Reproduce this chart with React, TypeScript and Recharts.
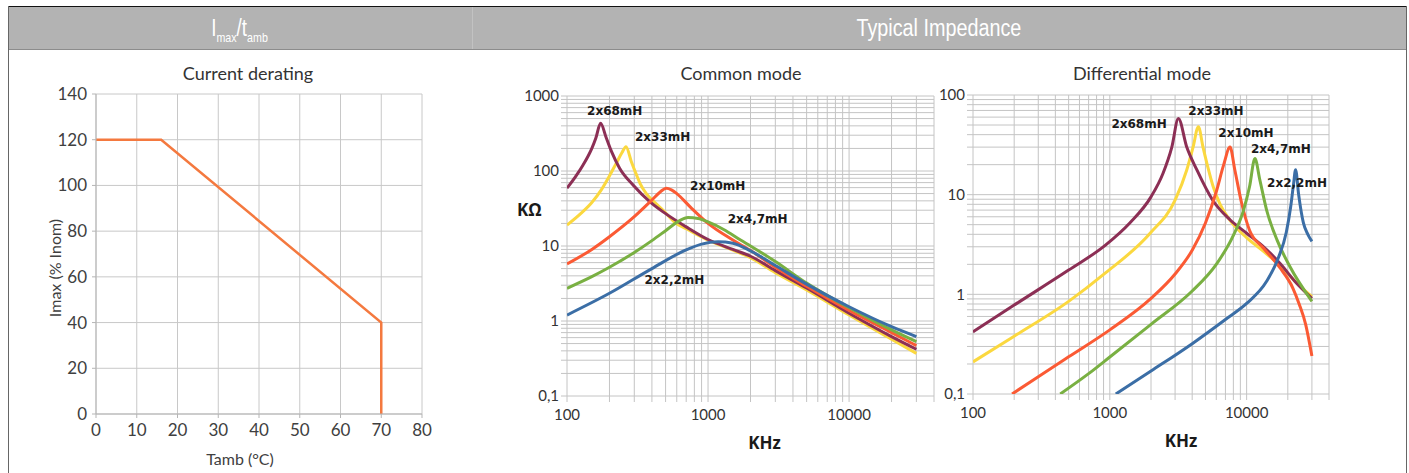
import React from "react";
import {
  CartesianGrid,
  Line,
  LineChart,
  ReferenceDot,
  XAxis,
  YAxis,
} from "recharts";

// Current derating
const tamb = [0, 16, 70, 70];
const imax = [120, 120, 40, 0];
const tambTicks = [0, 10, 20, 30, 40, 50, 60, 70, 80];
const imaxTicks = [0, 20, 40, 60, 80, 100, 120, 140];

// Common mode impedance (KHz -> KOhm)
const cm68F = [100, 115, 130, 150, 160, 173, 190, 207, 236, 294, 386, 500, 700, 1000, 1500, 2000, 3000, 5000, 10000, 20000, 30000];
const cm68Z = [59, 84, 120, 200, 273, 432, 275, 181, 109, 65, 39, 27, 18, 12.2, 9.0, 7.3, 4.7, 2.75, 1.27, 0.62, 0.42];
const cm33F = [100, 125, 150, 175, 200, 225, 245, 262, 286, 310, 330, 365, 420, 480, 595, 700, 1000, 1500, 2000, 3000, 5000, 10000, 20000, 30000];
const cm33Z = [19, 27, 38, 56, 86, 130, 175, 211, 133, 90, 68, 50, 38, 30, 20, 17, 12, 8.8, 7.0, 4.4, 2.6, 1.2, 0.57, 0.37];
const cm10F = [100, 150, 200, 300, 400, 460, 506, 550, 600, 750, 1000, 1500, 2000, 3000, 5000, 10000, 20000, 30000];
const cm10Z = [5.75, 9, 13.3, 24.6, 41, 53, 58.7, 56, 50, 33, 20, 12, 8.7, 5.2, 2.9, 1.38, 0.7, 0.47];
const cm47F = [100, 150, 200, 300, 400, 500, 620, 721, 850, 1000, 1300, 1700, 2000, 3000, 5000, 10000, 20000, 30000];
const cm47Z = [2.73, 3.9, 5.2, 8.2, 11.8, 16, 21.5, 24, 23.3, 21, 16.5, 12, 10, 6.2, 3.2, 1.5, 0.76, 0.53];
const cm22F = [100, 200, 400, 700, 900, 1178, 1500, 2000, 3000, 5000, 10000, 20000, 30000];
const cm22Z = [1.2, 2.34, 5.0, 8.9, 10.6, 11.4, 10.9, 8.6, 5.5, 3.1, 1.55, 0.84, 0.62];

// Differential mode impedance
const dm68F = [100, 200, 500, 925, 1400, 2000, 2450, 2840, 3170, 3650, 4330, 5650, 7560, 10000, 13300, 17500, 23200, 30000];
const dm68Z = [0.42, 0.78, 1.75, 3.1, 5.2, 9.5, 16.4, 30, 58, 30, 17.7, 8.8, 5.6, 4.1, 3.0, 2.05, 1.29, 0.91];
const dm33F = [100, 200, 500, 925, 1970, 3000, 3650, 4060, 4440, 4800, 5200, 5700, 6400, 7500, 10000, 13300, 17500, 23200, 30000];
const dm33Z = [0.21, 0.38, 0.85, 1.63, 4.1, 8.8, 17.7, 30, 48, 30, 19, 12, 8, 5.6, 3.7, 2.7, 1.95, 1.3, 0.95];
const dm10F = [193, 300, 500, 1000, 2000, 3000, 4000, 5000, 6000, 6800, 7560, 8200, 9200, 10500, 13300, 17500, 21800, 24200, 27000, 30000];
const dm10Z = [0.1, 0.149, 0.236, 0.44, 0.91, 1.6, 2.77, 5.2, 10.7, 20, 30, 17.7, 8.2, 4.4, 2.9, 1.85, 1.15, 0.8, 0.5, 0.24];
const dm47F = [434, 700, 1000, 2000, 4000, 6000, 8000, 9500, 10500, 11500, 12500, 14000, 16700, 20700, 30000];
const dm47Z = [0.1, 0.16, 0.235, 0.5, 1.08, 2.0, 3.9, 7, 12, 23, 14, 7, 3.5, 1.9, 0.85];
const dm22F = [1106, 2000, 4000, 7000, 10000, 14000, 17000, 19500, 21000, 22000, 22800, 24000, 26000, 28000, 30000];
const dm22Z = [0.1, 0.17, 0.32, 0.56, 0.81, 1.35, 2.3, 4.2, 7.6, 12.6, 17.8, 10, 5.2, 4.0, 3.4];

const seriesNames = ["2x68mH", "2x33mH", "2x10mH", "2x4,7mH", "2x2,2mH"];
const seriesColors = ["#8c2f55", "#fbd83f", "#fb5a34", "#79b042", "#3b6ea6"];

// label anchors (data units)
const cmLabelF = [218, 477, 1172, 2250, 578];
const cmLabelZ = [631, 284, 63, 22.9, 3.5];
const dmLabelF = [1637, 5970, 9890, 17800, 23350];
const dmLabelZ = [51, 69, 41.6, 28.7, 13.1];

const freqTicks = [100, 1000, 10000];
const cmZTicks = [0.1, 1, 10, 100, 1000];
const dmZTicks = [0.1, 1, 10, 100];
const minorSteps = [1, 2, 3, 4, 5, 6, 7, 8, 9];
const freqDecades = [100, 1000, 10000];
const cmDecades = [0.1, 1, 10, 100];
const dmDecades = [0.1, 1, 10];

const freqGrid = freqDecades.flatMap((d) => minorSteps.map((s) => s * d)).filter((v) => v <= 40000);
const cmZGrid = [...cmDecades.flatMap((d) => minorSteps.map((s) => +(s * d).toFixed(2))), 1000];
const dmZGrid = [...dmDecades.flatMap((d) => minorSteps.map((s) => +(s * d).toFixed(2))), 100];

const zip = (f: number[], z: number[]) => f.map((v, i) => ({ f: v, z: z[i] }));

const cmSeries = [zip(cm68F, cm68Z), zip(cm33F, cm33Z), zip(cm10F, cm10Z), zip(cm47F, cm47Z), zip(cm22F, cm22Z)];
const dmSeries = [zip(dm68F, dm68Z), zip(dm33F, dm33Z), zip(dm10F, dm10Z), zip(dm47F, dm47Z), zip(dm22F, dm22Z)];
const drawOrder = [1, 0, 2, 3, 4];

const derating = tamb.map((t, i) => ({ t, i: imax[i] }));

const majorOnly = (majors: number[]) => (v: number) =>
  majors.some((m) => Math.abs(m - v) < 1e-9) ? String(v).replace(".", ",") : "";

const calibri = "Lato, 'Open Sans', sans-serif";
const gridGray = "#c4c4c4";
const tickStyle = { fontFamily: calibri, fontSize: 15, fill: "#333" };
const curveLabel = { fontFamily: "'DejaVu Sans', sans-serif", fontWeight: 700, fontSize: 12, fill: "#1a1a1a" };
const unitLabel = { fontFamily: "'Open Sans', sans-serif", fontWeight: 700, fontSize: 17, fill: "#1a1a1a" };

function ImpedanceChart(props: {
  left: number;
  width: number;
  margin: { top: number; right: number; left: number; bottom: number };
  series: { f: number; z: number }[][];
  zDomain: [number, number];
  zTicks: number[];
  zGrid: number[];
  labelF: number[];
  labelZ: number[];
  kHzDx: number;
  showOhm?: boolean;
}) {
  return (
    <div style={{ position: "absolute", left: props.left, top: 50 }}>
      <LineChart width={props.width} height={423} margin={props.margin}>
        <CartesianGrid stroke={gridGray} />
        <XAxis
          type="number"
          dataKey="f"
          scale="log"
          domain={[100, 40000]}
          allowDataOverflow
          ticks={freqGrid}
          interval={0}
          tickFormatter={majorOnly(freqTicks)}
          height={60}
          axisLine={false}
          tickLine={{ stroke: gridGray }}
          tickSize={6}
          tickMargin={7}
          tick={tickStyle}
          label={{ value: "KHz", position: "insideBottom", offset: 7, dx: props.kHzDx, style: unitLabel }}
        />
        <YAxis
          type="number"
          scale="log"
          domain={props.zDomain}
          allowDataOverflow
          ticks={props.zGrid}
          interval={0}
          tickFormatter={majorOnly(props.zTicks)}
          width={60}
          axisLine={false}
          tickLine={{ stroke: gridGray }}
          tickSize={6}
          tickMargin={2}
          tick={tickStyle}
          label={
            props.showOhm
              ? { value: "KΩ", position: "insideLeft", offset: 10, dy: -36, style: unitLabel }
              : undefined
          }
        />
        {drawOrder.map((k) => (
          <Line
            key={seriesNames[k]}
            data={props.series[k]}
            dataKey="z"
            type="monotone"
            stroke={seriesColors[k]}
            strokeWidth={3}
            dot={false}
            isAnimationActive={false}
          />
        ))}
        {seriesNames.map((n, k) => (
          <ReferenceDot
            key={n}
            x={props.labelF[k]}
            y={props.labelZ[k]}
            r={0}
            stroke="none"
            label={{ value: n, position: "center", style: curveLabel }}
          />
        ))}
      </LineChart>
    </div>
  );
}

const headerText = {
  position: "absolute" as const,
  top: 7,
  height: 42,
  lineHeight: "42px",
  textAlign: "center" as const,
  color: "#fff",
  fontFamily: "'Liberation Sans', Arial, sans-serif",
  fontSize: 23,
};

export default function App() {
  return (
    <div
      style={{
        position: "absolute",
        left: 0,
        top: 0,
        width: 1409,
        height: 473,
        background: "#fff",
        overflow: "hidden",
      }}
    >
      {/* frame */}
      <div style={{ position: "absolute", left: 8, top: 6, width: 1399, height: 1, background: "#111" }} />
      <div style={{ position: "absolute", left: 8, top: 7, width: 1399, height: 42, background: "#b3b3b3", borderBottom: "1px solid #8c8c8c" }} />
      <div style={{ position: "absolute", left: 472, top: 7, width: 1, height: 42, background: "#c2c2c2" }} />
      <div style={{ position: "absolute", left: 8, top: 6, width: 1, height: 467, background: "#666" }} />
      <div style={{ position: "absolute", left: 1406, top: 6, width: 1, height: 467, background: "#666" }} />
      <div style={{ ...headerText, left: 8, width: 464 }}>
        <span style={{ display: "inline-block", transform: "scaleX(0.82)" }}>
          I<sub style={{ fontSize: 13 }}>max</sub>/t<sub style={{ fontSize: 13 }}>amb</sub>
        </span>
      </div>
      <div style={{ ...headerText, left: 472, width: 934 }}>
        <span style={{ display: "inline-block", transform: "scaleX(0.86)" }}>Typical Impedance</span>
      </div>

      {/* titles */}
      {[
        { t: "Current derating", x: 248 },
        { t: "Common mode", x: 741 },
        { t: "Differential mode", x: 1142 },
      ].map((h) => (
        <div
          key={h.t}
          style={{
            position: "absolute",
            left: h.x - 150,
            width: 300,
            top: 62,
            textAlign: "center",
            fontFamily: calibri,
            fontSize: 18,
            lineHeight: "22px",
            color: "#333",
          }}
        >
          {h.t}
        </div>
      ))}

      {/* current derating */}
      <div style={{ position: "absolute", left: 0, top: 50 }}>
        <LineChart width={464} height={423} margin={{ top: 44, right: 42, left: 36, bottom: 0 }} data={derating}>
          <CartesianGrid stroke="#c8c8c8" />
          <XAxis
            type="number"
            dataKey="t"
            domain={[0, 80]}
            ticks={tambTicks}
            height={59}
            stroke="#b5b5b5"
            tickSize={4}
            tickMargin={6}
            tick={{ fontFamily: calibri, fontSize: 17, fill: "#404040" }}
            label={{
              value: "Tamb (°C)",
              position: "insideBottom",
              offset: 8,
              dx: -19,
              style: { fontFamily: calibri, fontSize: 16, fill: "#404040" },
            }}
          />
          <YAxis
            type="number"
            domain={[0, 140]}
            ticks={imaxTicks}
            width={60}
            stroke="#b5b5b5"
            tickSize={4}
            tickMargin={5}
            tick={{ fontFamily: calibri, fontSize: 17, fill: "#404040" }}
            label={{
              value: "Imax (% Inom)",
              angle: -90,
              position: "insideLeft",
              offset: 19,
              dy: 14,
              style: { fontFamily: calibri, fontSize: 16, fill: "#404040", textAnchor: "middle" },
            }}
          />
          <Line
            dataKey="i"
            type="linear"
            stroke="#f4793f"
            strokeWidth={2.5}
            dot={false}
            isAnimationActive={false}
          />
        </LineChart>
      </div>

      <ImpedanceChart
        left={472}
        width={480}
        margin={{ top: 46, right: 18, left: 35, bottom: 17 }}
        series={cmSeries}
        zDomain={[0.1, 1000]}
        zTicks={cmZTicks}
        zGrid={cmZGrid}
        labelF={cmLabelF}
        labelZ={cmLabelZ}
        kHzDx={14}
        showOhm
      />
      <ImpedanceChart
        left={900}
        width={452}
        margin={{ top: 45, right: 23, left: 13, bottom: 19 }}
        series={dmSeries}
        zDomain={[0.1, 100]}
        zTicks={dmZTicks}
        zGrid={dmZGrid}
        labelF={dmLabelF}
        labelZ={dmLabelZ}
        kHzDx={30}
      />
    </div>
  );
}
